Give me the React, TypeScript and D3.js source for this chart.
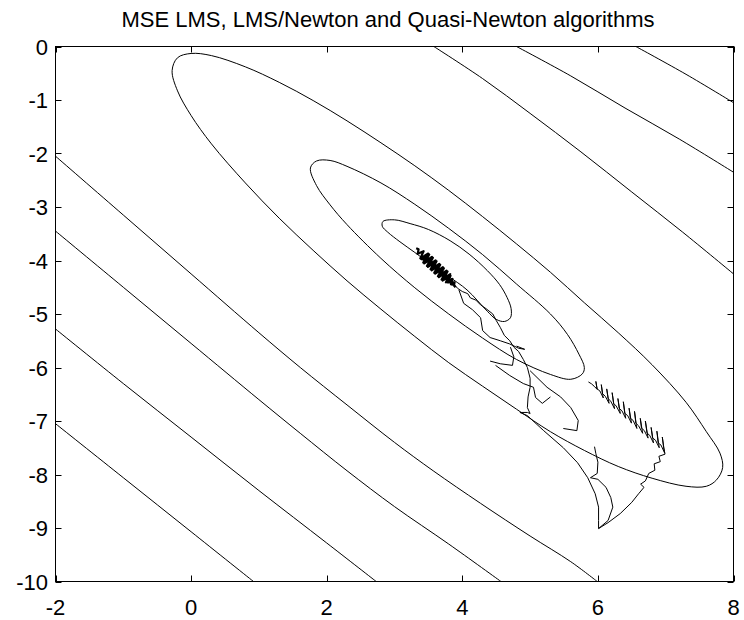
import React from 'react';
import * as d3 from 'd3';

type Pt = [number, number];

const title = 'MSE LMS, LMS/Newton and Quasi-Newton algorithms';
const xTicks = [-2, 0, 2, 4, 6, 8];
const yTicks = [0, -1, -2, -3, -4, -5, -6, -7, -8, -9, -10];

// contour lines of the MSE surface
const contourTopA: Pt[] = [[3.58, 0], [4.3, -0.6], [5.0, -1.25], [5.75, -1.97], [6.5, -2.72], [7.25, -3.47], [8, -4.25]];
const contourTopB: Pt[] = [[4.8, 0], [5.6, -0.55], [6.4, -1.15], [7.2, -1.73], [8, -2.35]];
const contourTopC: Pt[] = [[6.56, 0], [7.3, -0.52], [8, -1.05]];
const contourLowD: Pt[] = [[-2, -2.05], [-1, -3.15], [0, -4.25], [1, -5.35], [1.61, -6.0], [2.3, -6.7], [3.0, -7.4], [3.57, -7.93], [4.27, -8.54], [5.0, -9.15], [5.6, -9.63], [5.99, -10]];
const contourLowE: Pt[] = [[-2, -3.45], [-1, -4.5], [0, -5.55], [1, -6.6], [1.61, -7.23], [2.3, -7.93], [3.0, -8.6], [3.8, -9.3], [4.57, -10]];
const contourLowF: Pt[] = [[-2, -5.28], [-1, -6.3], [0, -7.3], [1, -8.3], [2, -9.28], [2.73, -10]];
const contourLowG: Pt[] = [[-2, -7.05], [-1, -8.06], [0, -9.07], [0.92, -10]];

const ellipseOuter: Pt[] = [
  [-0.28, -0.45], [-0.2, -0.21], [0.0, -0.13], [0.3, -0.17], [0.8, -0.38], [1.3, -0.67], [1.8, -1.01],
  [2.3, -1.39], [2.8, -1.8], [3.3, -2.23], [3.8, -2.69], [4.3, -3.18], [4.8, -3.69], [5.3, -4.22],
  [5.8, -4.79], [6.3, -5.35], [6.8, -5.95], [7.3, -6.65], [7.6, -7.2], [7.8, -7.6], [7.84, -7.87],
  [7.75, -8.1], [7.6, -8.22], [7.3, -8.22], [6.8, -8.07], [6.3, -7.85], [5.8, -7.55], [5.3, -7.2],
  [4.8, -6.78], [4.3, -6.35], [3.8, -5.91], [3.3, -5.42], [2.8, -4.91], [2.3, -4.38], [1.8, -3.81],
  [1.3, -3.21], [0.8, -2.55], [0.3, -1.82], [0.0, -1.29], [-0.2, -0.83],
];
const ellipseMiddle: Pt[] = [
  [1.76, -2.27], [1.85, -2.14], [2.05, -2.13], [2.3, -2.24], [2.8, -2.55], [3.3, -2.95], [3.8, -3.4],
  [4.3, -3.89], [4.8, -4.44], [5.3, -5.0], [5.55, -5.38], [5.72, -5.75], [5.8, -6.0], [5.77, -6.12],
  [5.6, -6.22], [5.3, -6.13], [4.8, -5.85], [4.3, -5.45], [3.8, -5.0], [3.3, -4.51], [2.8, -3.96],
  [2.3, -3.33], [2.05, -2.96], [1.85, -2.6],
];
const ellipseInner: Pt[] = [
  [2.83, -3.27], [3.0, -3.24], [3.23, -3.31], [3.5, -3.42], [3.82, -3.63], [4.1, -3.88], [4.37, -4.19],
  [4.55, -4.45], [4.66, -4.69], [4.72, -4.9], [4.71, -5.07], [4.62, -5.14], [4.5, -5.1], [4.37, -4.95],
  [4.07, -4.55], [3.8, -4.3], [3.57, -4.1], [3.3, -3.85], [3.08, -3.65], [2.9, -3.47], [2.82, -3.36],
];

// adaptive filter trajectories
const lmsPath: Pt[] = [
  [6.01, -9.01], [6.15, -8.9], [6.33, -8.73], [6.5, -8.52], [6.6, -8.36], [6.68, -8.24], [6.63, -8.18],
  [6.7, -8.12], [6.75, -7.98], [6.84, -7.92], [6.83, -7.8], [6.92, -7.76], [6.9, -7.66], [6.99, -7.62],
  [6.97, -7.5], [6.95, -7.3], [6.975, -7.52], [6.985, -7.6], [6.93, -7.45],
  [6.888, -7.408], [6.87, -7.19], [6.895, -7.42], [6.905, -7.5], [6.85, -7.36],
  [6.806, -7.316], [6.785, -7.12], [6.81, -7.33], [6.82, -7.41], [6.765, -7.27],
  [6.724, -7.224], [6.7, -7.0], [6.73, -7.24], [6.74, -7.32], [6.685, -7.18],
  [6.642, -7.132], [6.625, -6.95], [6.65, -7.15], [6.66, -7.23], [6.6, -7.09],
  [6.56, -7.04], [6.54, -6.82], [6.565, -7.06], [6.575, -7.14], [6.52, -6.99],
  [6.478, -6.948], [6.46, -6.76], [6.485, -6.96], [6.495, -7.04], [6.44, -6.9],
  [6.396, -6.856], [6.375, -6.64], [6.4, -6.87], [6.41, -6.95], [6.355, -6.81],
  [6.314, -6.764], [6.295, -6.58], [6.32, -6.78], [6.33, -6.86], [6.27, -6.72],
  [6.232, -6.672], [6.21, -6.47], [6.235, -6.69], [6.245, -6.77], [6.19, -6.63],
  [6.15, -6.58], [6.13, -6.4], [6.155, -6.6], [6.165, -6.67], [6.11, -6.54],
  [6.068, -6.488], [6.05, -6.32], [6.07, -6.5], [6.08, -6.57], [6.03, -6.44],
  [5.986, -6.396], [5.97, -6.26], [5.99, -6.41], [5.945, -6.35],
  [5.904, -6.304], [5.86, -6.27],
];
const newtonPath: Pt[] = [
  [6.01, -9.01], [6.01, -8.86], [6.01, -8.61], [5.96, -8.36], [5.85, -8.06], [5.7, -7.78], [5.49, -7.5],
  [5.2, -7.18], [4.96, -6.9], [4.85, -6.84], [4.96, -6.84], [5.0, -6.86], [4.96, -6.75], [4.97, -6.55],
  [5.0, -6.37], [5.0, -6.2], [4.96, -6.0], [4.9, -5.85], [4.83, -5.7], [4.76, -5.62], [4.7, -5.5],
  [4.62, -5.4], [4.56, -5.25], [4.5, -5.12], [4.45, -5.0], [4.35, -4.9], [4.27, -4.83], [4.2, -4.74],
  [4.12, -4.7], [4.08, -4.62], [4.0, -4.58], [3.93, -4.52], [3.87, -4.43],
];
const quasiPath: Pt[] = [
  [6.01, -9.01], [6.15, -8.86], [6.22, -8.61], [6.19, -8.43], [6.12, -8.24], [6.0, -8.09], [5.89, -8.06],
  [5.99, -7.98], [6.0, -7.77], [5.97, -7.61], [5.95, -7.48],
];
const trailB: Pt[] = [[3.95, -4.55], [4.02, -4.8], [4.15, -4.92], [4.27, -5.07], [4.3, -5.31], [4.41, -5.44], [4.56, -5.5], [4.7, -5.56], [4.83, -5.64], [4.92, -5.66], [4.8, -5.6]];
const trailC: Pt[] = [[4.41, -5.88], [4.56, -5.93], [4.74, -5.96], [4.76, -5.8], [4.71, -5.62]];
const trailD: Pt[] = [[4.49, -5.96], [4.7, -6.15], [4.9, -6.3], [5.05, -6.37], [5.08, -6.56], [5.18, -6.67], [5.3, -6.55]];
const trailE: Pt[] = [[5.0, -6.06], [5.25, -6.37], [5.45, -6.55], [5.6, -6.75], [5.71, -6.99], [5.69, -7.18], [5.49, -7.14]];
const blob: Pt[] = [
  [3.32, -3.77], [3.355, -3.79], [3.342, -3.876], [3.429, -3.826], [3.381, -3.96], [3.498, -3.87],
  [3.425, -4.038], [3.552, -3.934], [3.479, -4.102], [3.606, -3.998], [3.533, -4.166], [3.66, -4.062],
  [3.587, -4.23], [3.714, -4.126], [3.641, -4.294], [3.768, -4.19], [3.695, -4.358], [3.822, -4.254],
  [3.759, -4.408], [3.856, -4.345], [3.833, -4.445], [3.88, -4.45], [3.886, -4.407], [3.783, -4.41],
  [3.826, -4.284], [3.709, -4.374], [3.782, -4.206], [3.655, -4.31], [3.728, -4.142], [3.601, -4.246],
  [3.674, -4.078], [3.547, -4.182], [3.62, -4.014], [3.493, -4.118], [3.566, -3.95], [3.439, -4.054],
  [3.512, -3.886], [3.395, -3.976], [3.5, -3.99], [3.6, -4.12], [3.7, -4.24], [3.8, -4.36], [3.9, -4.5],
];

const W = 744;
const H = 620;

export default function App() {
  const x = d3.scaleLinear().domain([-2, 8]).range([55.5, 733.5]);
  const y = d3.scaleLinear().domain([-10, 0]).range([581.5, 46.5]);

  const straight = d3.line<Pt>().x(d => x(d[0])).y(d => y(d[1]));
  const smooth = d3.line<Pt>().x(d => x(d[0])).y(d => y(d[1])).curve(d3.curveCatmullRom);
  const loop = d3.line<Pt>().x(d => x(d[0])).y(d => y(d[1])).curve(d3.curveCatmullRomClosed);

  const openContours = [contourTopA, contourTopB, contourTopC, contourLowD, contourLowE, contourLowF, contourLowG];
  const ellipses = [ellipseOuter, ellipseMiddle, ellipseInner];
  const paths = [lmsPath, newtonPath, quasiPath, trailB, trailC, trailD, trailE];

  const [x0, x1] = x.range();
  const [y0, y1] = y.range();
  const font = "'Liberation Sans', Arial, sans-serif";

  return (
    <svg width={W} height={H} style={{ position: 'absolute', left: 0, top: 0, background: '#fff' }}>
      <defs>
        <clipPath id="plot">
          <rect x={x0} y={y1} width={x1 - x0} height={y0 - y1} />
        </clipPath>
      </defs>
      <rect width={W} height={H} fill="#fff" />
      <text x={388} y={27} textAnchor="middle" fontFamily={font} fontSize={22} fill="#000">{title}</text>

      <g clipPath="url(#plot)" fill="none" stroke="#000" strokeWidth={1}>
        {openContours.map((c, i) => <path key={'c' + i} d={smooth(c) || ''} />)}
        {ellipses.map((c, i) => <path key={'e' + i} d={loop(c) || ''} />)}
        {paths.map((c, i) => <path key={'p' + i} d={straight(c) || ''} />)}
        <path d={straight(blob) || ''} strokeWidth={2.2} strokeLinejoin="round" />
      </g>

      <rect x={x0} y={y1} width={x1 - x0} height={y0 - y1} fill="none" stroke="#000" strokeWidth={1} />
      <g stroke="#000" strokeWidth={1}>
        {xTicks.map(t => (
          <g key={'xt' + t}>
            <line x1={Math.round(x(t)) + 0.5} x2={Math.round(x(t)) + 0.5} y1={y0} y2={y0 - 6} />
            <line x1={Math.round(x(t)) + 0.5} x2={Math.round(x(t)) + 0.5} y1={y1} y2={y1 + 6} />
          </g>
        ))}
        {yTicks.map(t => (
          <g key={'yt' + t}>
            <line x1={x0} x2={x0 + 6} y1={Math.round(y(t)) + 0.5} y2={Math.round(y(t)) + 0.5} />
            <line x1={x1} x2={x1 - 6} y1={Math.round(y(t)) + 0.5} y2={Math.round(y(t)) + 0.5} />
          </g>
        ))}
      </g>
      <g fontFamily={font} fontSize={22} fill="#000">
        {xTicks.map(t => (
          <text key={'xl' + t} x={x(t)} y={615} textAnchor="middle">{String(t)}</text>
        ))}
        {yTicks.map(t => (
          <text key={'yl' + t} x={48} y={y(t) + 8} textAnchor="end">{String(t)}</text>
        ))}
      </g>
    </svg>
  );
}
